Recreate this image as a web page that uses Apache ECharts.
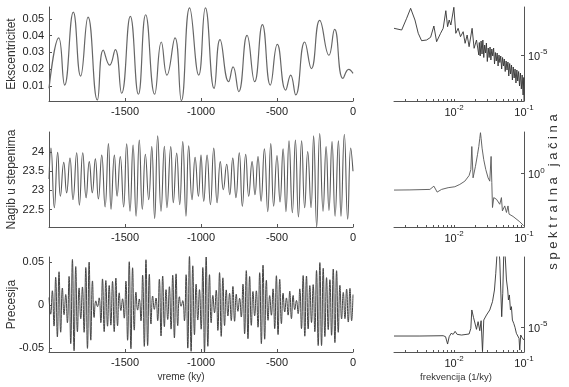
<!DOCTYPE html>
<html><head><meta charset="utf-8">
<script src="https://cdn.jsdelivr.net/npm/echarts@6/dist/echarts.min.js"></script>
<style>html,body{margin:0;padding:0;background:#fff}#c{width:569px;height:387px}</style>
</head><body><div id="c"></div>
<script>
// ---- time series (ky) ----
const eccT = [-2000,-1936,-1897,-1840,-1792,-1743,-1682,-1643,-1601,-1564,-1522,-1465,-1412,-1364,-1305,-1261,-1224,-1171,-1129,-1075,-1015,-971,-914,-875,-818,-789,-752,-697,-647,-596,-544,-498,-443,-410,-377,-318,-274,-219,-158,-121,-66,-28,0];
const eccV = [0.0086,0.0386,0.0106,0.0539,0.0159,0.051,0.0017,0.0313,0.0224,0.0317,0.0057,0.0514,0.0051,0.0524,0.0051,0.0362,0.0165,0.0386,0.0013,0.0565,0.0165,0.0565,0.0086,0.0376,0.0126,0.0214,0.0067,0.0401,0.0126,0.0465,0.0106,0.0348,0.0076,0.0165,0.0047,0.0362,0.0204,0.049,0.0283,0.0437,0.0145,0.0199,0.0175];

const oblT = [-2000,-1987,-1965,-1943,-1925,-1903,-1884,-1862,-1842,-1818,-1800,-1778,-1756,-1735,-1715,-1695,-1675,-1653,-1631,-1609,-1592,-1570,-1552,-1531,-1509,-1489,-1467,-1447,-1427,-1406,-1386,-1366,-1344,-1324,-1305,-1285,-1263,-1241,-1224,-1199,-1182,-1160,-1140,-1120,-1099,-1081,-1059,-1039,-1017,-1000,-982,-960,-938,-916,-894,-873,-853,-831,-811,-791,-770,-748,-728,-706,-686,-664,-645,-625,-605,-583,-561,-541,-522,-500,-480,-460,-441,-421,-399,-379,-359,-338,-318,-298,-276,-259,-239,-219,-197,-177,-158,-138,-118,-96,-79,-57,-35,-15,0];
const oblV = [23.30,24.10,22.55,23.99,22.85,23.73,22.94,23.84,22.76,23.98,22.62,23.98,22.81,23.75,22.94,23.82,22.78,23.92,22.57,24.22,22.51,23.92,22.85,23.88,22.57,24.21,22.46,24.18,22.33,24.31,22.51,23.94,22.76,24.14,22.27,24.42,22.46,24.15,22.55,24.14,22.68,23.97,22.63,24.27,22.33,24.16,22.76,23.86,22.85,23.92,22.72,23.92,22.63,24.10,22.68,23.75,23.02,23.68,22.89,23.84,22.81,23.98,22.59,23.94,22.85,23.75,22.89,23.88,22.72,24.08,22.45,24.22,22.59,23.91,22.70,24.08,22.45,24.29,22.42,24.31,22.31,24.29,22.55,24.01,22.55,24.42,22.05,24.48,22.46,24.14,22.48,24.27,22.33,24.29,22.33,24.46,22.25,24.10,23.50];

// precession index, sampled every 11 ky from -2000 (last sample clamped to 0)
const precStart = -2000, precStep = 11;
const precV = [0.0086,-0.0107,0.0164,-0.0245,0.032,-0.037,0.0384,-0.0316,0.0196,-0.0113,
0.0121,-0.0206,0.033,-0.0448,0.0526,-0.053,0.0444,-0.031,0.0197,-0.016,
0.0208,-0.0317,0.0433,-0.0503,0.0495,-0.0408,0.0278,-0.0145,0.0047,-0.002,
0.0082,-0.0206,0.0301,-0.0309,0.0282,-0.0246,0.0225,-0.0234,0.0272,-0.0309,
0.0311,-0.0242,0.014,-0.0065,0.0071,-0.0153,0.0276,-0.0409,0.05,-0.0507,
0.043,-0.0292,0.0148,-0.006,0.0069,-0.0184,0.0344,-0.048,0.0523,-0.047,
0.0354,-0.0221,0.0103,-0.0051,0.008,-0.0182,0.0297,-0.036,0.0334,-0.0252,
0.0177,-0.0169,0.0211,-0.028,0.0344,-0.0382,0.036,-0.024,0.0095,-0.0015,
0.005,-0.0184,0.035,-0.05,0.0565,-0.0537,0.0453,-0.0345,0.0241,-0.0175,
0.0177,-0.0281,0.0433,-0.0545,0.0555,-0.0479,0.035,-0.0206,0.011,-0.0091,
0.017,-0.0295,0.0374,-0.0364,0.0314,-0.0239,0.0174,-0.0128,0.0135,-0.0182,
0.0214,-0.0189,0.0124,-0.0074,0.0077,-0.014,0.0241,-0.0334,0.0397,-0.0391,
0.0329,-0.0236,0.0156,-0.0126,0.0163,-0.0258,0.0373,-0.0448,0.046,-0.0397,
0.0286,-0.0178,0.0108,-0.0119,0.0186,-0.0275,0.0338,-0.0343,0.0296,-0.0217,
0.0136,-0.0082,0.0081,-0.0118,0.0159,-0.0159,0.011,-0.0055,0.0052,-0.0101,
0.0186,-0.0274,0.034,-0.0362,0.0335,-0.0278,0.0224,-0.0204,0.0235,-0.031,
0.0398,-0.047,0.049,-0.047,0.0424,-0.0366,0.0316,-0.0285,0.0292,-0.0351,
0.0415,-0.0436,0.0396,-0.0317,0.0227,-0.0162,0.0145,-0.0159,0.0183,-0.0198,
0.0192,-0.0183,0.012];

// ---- spectra: log10 of frequency (1/ky) and log10 of power ----
const eccSpecFreqExp = [-2.861,-2.751,-2.68,-2.623,-2.561,-2.514,-2.466,-2.394,-2.337,-2.29,-2.251,-2.194,-2.157,-2.119,-2.094,-2.071,-2.047,-2.004,-1.976,-1.943,-1.909,-1.871,-1.843,-1.814,-1.786,-1.743,-1.714,-1.68,-1.647,
-1.640,-1.627,-1.614,-1.601,-1.589,-1.576,-1.563,-1.550,-1.538,-1.525,-1.512,-1.499,-1.486,-1.474,-1.461,-1.448,-1.435,-1.422,-1.410,-1.397,-1.384,-1.371,-1.358,-1.346,-1.333,-1.320,-1.307,-1.294,-1.282,-1.269,-1.256,-1.243,-1.230,-1.218,-1.205,-1.192,-1.179,-1.166,-1.154,-1.141,-1.128,-1.115,-1.102,-1.090,-1.077,-1.064,-1.051,-1.038,-1.026,-1.013,-1.004,-1.000];
const eccSpecPowExp = [-4.466,-4.5,-4.266,-4.066,-4.3,-4.566,-4.714,-4.7,-4.646,-4.42,-4.734,-4.566,-4.466,-4.114,-4.434,-4.3,-4.4,-4.046,-4.566,-4.466,-4.634,-4.534,-4.766,-4.6,-4.834,-4.466,-4.866,-4.7,-5.0,
-4.75,-5.02,-4.72,-4.98,-4.70,-5.05,-4.80,-4.96,-4.76,-5.13,-4.86,-5.05,-4.84,-5.10,-4.88,-5.02,-4.86,-5.18,-4.95,-5.12,-4.96,-5.22,-5.00,-5.15,-5.02,-5.28,-5.05,-5.22,-5.08,-5.33,-5.12,-5.30,-5.14,-5.42,-5.17,-5.38,-5.20,-5.50,-5.24,-5.46,-5.28,-5.56,-5.30,-5.52,-5.33,-5.62,-5.36,-5.68,-5.40,-5.80,-5.45,-5.92];

const oblSpecFreqExp = [-2.861,-2.633,-2.347,-2.29,-2.243,-2.18,-2.086,-1.99,-1.919,-1.847,-1.786,-1.761,-1.747,-1.729,-1.695,-1.666,-1.647,-1.633,-1.623,-1.614,-1.6,-1.576,-1.547,-1.514,-1.49,-1.471,-1.461,-1.451,-1.433,-1.394,-1.371,-1.347,-1.323,-1.309,-1.276,-1.251,-1.229,-1.214,-1.157,-1.061,-1.004];
const oblSpecPowExp = [-0.278,-0.275,-0.267,-0.212,-0.312,-0.267,-0.238,-0.222,-0.183,-0.128,-0.033,0.067,0.455,-0.072,0.122,0.317,0.456,0.594,0.688,0.594,0.428,0.233,0.067,-0.072,-0.128,0.288,-0.15,-0.572,-0.405,-0.433,-0.462,-0.517,-0.405,-0.628,-0.545,-0.655,-0.545,-0.683,-0.722,-0.812,-0.878];

const precSpecFreqExp = [-2.861,-2.49,-2.157,-2.123,-2.094,-2.071,-2.043,-2.014,-1.986,-1.957,-1.894,-1.786,-1.761,-1.747,-1.723,-1.7,-1.68,-1.657,-1.633,-1.614,-1.594,-1.576,-1.537,-1.49,-1.451,-1.423,-1.404,-1.386,-1.366,-1.347,-1.333,-1.319,-1.304,-1.29,-1.28,-1.266,-1.251,-1.233,-1.223,-1.209,-1.194,-1.18,-1.166,-1.147,-1.129,-1.109,-1.09,-1.071,-1.061,-1.047,-1.029,-1.004];
const precSpecPowExp = [-5.12,-5.12,-5.116,-5.129,-5.227,-5.129,-5.084,-5.098,-5.058,-5.098,-5.107,-5.093,-5.018,-4.773,-4.871,-4.897,-5.031,-4.929,-5.049,-4.916,-5.329,-4.907,-4.84,-4.773,-4.662,-4.507,-4.284,-4.018,-3.9,-4.107,-4.507,-4.863,-4.551,-4.02,-3.9,-4.107,-4.373,-4.507,-4.64,-4.573,-4.773,-4.729,-4.907,-4.951,-5.004,-5.084,-5.062,-5.151,-5.307,-5.107,-5.138,-5.173];

// ---- ticks / labels ----
const timeTicks = [-1500,-1000,-500,0];
const eccTicks = [0.01,0.02,0.03,0.04,0.05];
const oblTicks = [22.5,23,23.5,24];
const precTicks = [-0.05,0,0.05];
const freqTickLabels = [0.01,0.1];
const freqMinorTicks = [0.002,0.003,0.004,0.005,0.006,0.007,0.008,0.009,0.01,0.02,0.03,0.04,0.05,0.06,0.07,0.08,0.09,0.1];
const powTickLabels = [[1e-5],[1],[1e-5]];
const yNames = ['Ekscentricitet','Nagib u stepenima','Precesija'];

const FONT = '"Liberation Sans", Arial, Helvetica, sans-serif';
const axisCol = '#555', textCol = '#222';

const chart = echarts.init(document.getElementById('c'), null, {renderer:'canvas', width:569, height:387});

const grids = [
  {left:49, top:7, width:304, height:94},
  {left:49, top:132, width:304, height:95},
  {left:49, top:257, width:304, height:95},
  {left:394, top:7, width:130, height:94},
  {left:394, top:132, width:130, height:95},
  {left:394, top:257, width:130, height:95}
].map(g => Object.assign({containLabel:false, outerBoundsMode:'none'}, g));

const lbl = {fontSize:11, color:textCol, fontFamily:FONT, formatter: v => String(v)};
const pow10Formatter = v => '{b|10}{s|' + Math.round(Math.log10(v)) + '}';
const richSup = {
  b:{fontSize:11, color:textCol, fontFamily:FONT, verticalAlign:'bottom'},
  s:{fontSize:8, color:textCol, fontFamily:FONT, verticalAlign:'bottom', padding:[0,0,6,0]}
};

function timeAxis(g, extra) {
  return Object.assign({
    type:'value', gridIndex:g, min:-2000, max:0,
    axisLine:{show:true, onZero:false, lineStyle:{color:axisCol, width:1}},
    axisTick:{show:true, inside:true, length:3, customValues:timeTicks, lineStyle:{color:axisCol}},
    axisLabel:Object.assign({customValues:timeTicks, margin:5}, lbl),
    splitLine:{show:false}
  }, extra || {});
}
function freqAxis(g, extra) {
  return Object.assign({
    type:'log', logBase:10, gridIndex:g, min:Math.pow(10,-2.861), max:0.1,
    axisLine:{show:true, onZero:false, lineStyle:{color:axisCol, width:1}},
    axisTick:{show:true, inside:true, length:2, customValues:freqMinorTicks, lineStyle:{color:axisCol}},
    axisLabel:{customValues:freqTickLabels, margin:3, formatter:pow10Formatter, rich:richSup},
    splitLine:{show:false}, minorTick:{show:false}
  }, extra || {});
}
function leftY(g, min, max, ticks, name) {
  return {
    type:'value', gridIndex:g, min, max, position:'left',
    axisLine:{show:true, onZero:false, lineStyle:{color:axisCol, width:1}},
    axisTick:{show:true, inside:true, length:3, customValues:ticks, lineStyle:{color:axisCol}},
    axisLabel:Object.assign({customValues:ticks, margin:5}, lbl),
    splitLine:{show:false},
    name, nameLocation:'middle', nameGap:31, nameMoveOverlap:false,
    nameTextStyle:{fontSize:12, color:'#333', fontFamily:FONT}
  };
}
function rightLogY(g, minExp, maxExp, ticks) {
  return {
    type:'log', logBase:10, gridIndex:g, position:'right',
    min:Math.pow(10,minExp), max:Math.pow(10,maxExp),
    axisLine:{show:true, onZero:false, lineStyle:{color:axisCol, width:1}},
    axisTick:{show:true, inside:true, length:3, customValues:ticks, lineStyle:{color:axisCol}},
    axisLabel:{customValues:ticks, margin:4, formatter:pow10Formatter, rich:richSup},
    splitLine:{show:false}, minorTick:{show:false}
  };
}

function lineSeries(xi, data, smooth, color, width) {
  return {type:'line', xAxisIndex:xi, yAxisIndex:xi, data, showSymbol:false, symbol:'none',
    smooth, clip:true, lineStyle:{color, width}, emphasis:{disabled:true}, silent:true};
}

const eccData = eccT.map((t,i)=>[t, eccV[i]]);
const oblData = oblT.map((t,i)=>[t, oblV[i]]);
const precData = precV.map((v,i)=>[Math.min(precStart + i*precStep, 0), v]);
const spec = (fe, pe) => fe.map((f,i)=>[Math.pow(10,f), Math.pow(10,pe[i])]);

chart.setOption({
  animation:false,
  backgroundColor:'#fff',
  grid:grids,
  xAxis:[
    timeAxis(0), timeAxis(1),
    timeAxis(2, {name:'vreme (ky)', nameLocation:'middle', nameGap:20, nameMoveOverlap:false,
      nameTextStyle:{fontSize:10, color:'#333', fontFamily:FONT, padding:[0,40,0,0]}}),
    freqAxis(3), freqAxis(4),
    freqAxis(5, {name:'frekvencija (1/ky)', nameLocation:'middle', nameGap:20, nameMoveOverlap:false,
      nameTextStyle:{fontSize:9.5, color:'#333', fontFamily:FONT, padding:[0,6,0,0]}})
  ],
  yAxis:[
    leftY(0, 0.0011, 0.057, eccTicks, yNames[0]),
    leftY(1, 22.05, 24.52, oblTicks, yNames[1]),
    leftY(2, -0.0545, 0.0555, precTicks, yNames[2]),
    rightLogY(3, -5.92, -4.04, powTickLabels[0]),
    rightLogY(4, -0.9, 0.7, powTickLabels[1]),
    rightLogY(5, -5.333, -4.067, powTickLabels[2])
  ],
  series:[
    lineSeries(0, eccData, 0.5, '#666', 1.2),
    lineSeries(1, oblData, 0.5, '#5a5a5a', 1.1),
    lineSeries(2, precData, 0.5, '#444', 1),
    lineSeries(3, spec(eccSpecFreqExp, eccSpecPowExp), false, '#333', 0.9),
    lineSeries(4, spec(oblSpecFreqExp, oblSpecPowExp), false, '#555', 0.9),
    lineSeries(5, spec(precSpecFreqExp, precSpecPowExp), false, '#333', 0.9)
  ],
  graphic:[{
    type:'text', x:553, y:192, rotation:Math.PI/2,
    style:{text:'s p e k t r a l n a   j a č i n a', fontSize:13, fontFamily:FONT, fill:'#333',
      align:'center', verticalAlign:'middle'}
  }]
});
</script></body></html>
